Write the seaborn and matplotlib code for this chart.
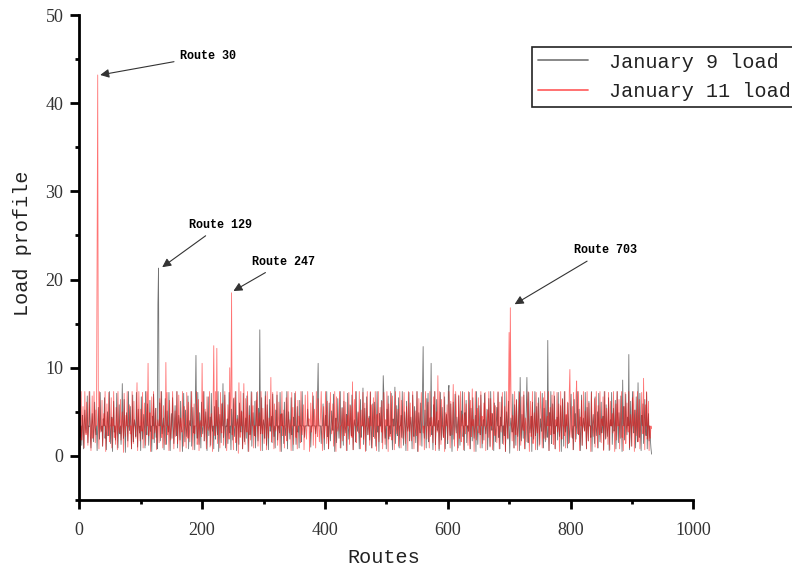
import numpy as np
import pandas as pd
import matplotlib
matplotlib.use("Agg")
import matplotlib.pyplot as plt
from matplotlib.lines import Line2D
from matplotlib.ticker import MultipleLocator
import seaborn as sns

# ---------------- data ----------------
series_names = ["January 9 load", "January 11 load"]

jan9_load = [
    3.4, 2.1, 3.4, 1.2, 4.6, 3.4, 0.8, 3.5, 5.2, 3.4, 2.6, 3.4, 6.8, 1.5, 3.4, 3.3, 7.3, 2.2, 0.9, 3.4,
    4.8, 3.4, 1.6, 3.4, 6.1, 3.2, 2.4, 3.4, 0.6, 3.4, 5.5, 3.4, 1.9, 7.2, 3.4, 2.8, 3.4, 1.1, 4.2, 3.4,
    6.6, 2.0, 3.4, 0.7, 3.4, 5.0, 3.4, 2.3, 7.3, 3.4, 1.4, 3.5, 4.4, 0.5, 3.4, 6.2, 2.7, 3.4, 1.8, 3.4,
    7.1, 3.4, 0.9, 3.4, 5.8, 2.5, 3.4, 1.3, 3.4, 8.2, 3.4, 2.0, 6.4, 3.3, 0.4, 3.4, 4.9, 3.4, 1.7, 7.3,
    3.4, 2.9, 5.6, 3.4, 0.8, 3.4, 6.9, 1.6, 3.4, 4.1, 3.4, 2.2, 7.2, 3.4, 1.0, 5.3, 3.4, 2.6, 3.4, 0.6,
    6.7, 3.4, 1.9, 3.4, 4.7, 3.4, 0.9, 7.3, 3.4, 2.4, 5.9, 3.4, 1.2, 3.4, 6.3, 2.8, 3.4, 0.5, 4.5, 3.4,
    7.0, 1.5, 3.4, 5.4, 2.1, 3.4, 0.8, 17.2, 21.3, 3.4, 6.0, 1.7, 3.4, 7.3, 2.5, 3.4, 4.3, 0.7, 3.4, 6.5,
    3.4, 1.3, 5.1, 3.4, 2.7, 7.2, 3.4, 0.6, 3.4, 4.8, 2.0, 6.6, 3.4, 1.4, 3.4, 5.7, 3.4, 2.3, 7.3, 0.9,
    3.4, 4.6, 3.4, 1.8, 6.2, 3.4, 2.9, 0.5, 3.4, 7.1, 3.4, 1.6, 5.2, 3.4, 2.2, 3.4, 6.8, 0.8, 3.4, 4.0,
    3.4, 7.3, 1.1, 3.4, 5.5, 2.6, 3.4, 0.7, 6.4, 11.4, 3.4, 2.0, 7.2, 3.4, 1.3, 4.9, 3.4, 0.9, 6.1, 3.4,
    2.5, 3.4, 7.3, 1.7, 3.4, 5.0, 3.4, 0.6, 3.4, 6.7, 2.3, 3.4, 4.4, 1.2, 7.1, 3.4, 2.8, 3.4, 0.8, 5.6,
    3.4, 1.9, 6.3, 3.4, 2.4, 7.3, 0.5, 3.4, 4.7, 3.4, 1.5, 5.9, 3.4, 8.2, 2.1, 3.4, 6.9, 0.9, 3.4, 3.3,
    4.2, 1.4, 3.4, 7.2, 2.6, 3.4, 0.7, 5.3, 3.4, 1.8, 6.5, 3.4, 2.2, 3.4, 7.3, 0.6, 3.4, 4.6, 3.4, 1.3,
    6.0, 3.4, 2.7, 5.1, 3.4, 0.8, 7.1, 3.4, 1.6, 3.4, 4.3, 2.0, 6.8, 3.4, 0.5, 3.4, 5.7, 2.4, 3.4, 7.3,
    1.1, 3.4, 4.9, 3.4, 2.3, 6.2, 0.9, 3.4, 7.2, 3.4, 1.7, 5.4, 3.4, 14.3, 2.5, 3.4, 6.6, 0.6, 3.4, 4.1,
    3.4, 2.0, 7.3, 3.4, 1.2, 5.8, 3.4, 0.7, 3.4, 6.4, 2.8, 3.4, 4.5, 1.5, 7.0, 3.4, 2.2, 3.4, 0.9, 5.2,
    3.4, 6.9, 1.8, 3.4, 3.4, 2.6, 7.2, 3.4, 0.5, 4.8, 3.4, 3.4, 1.4, 6.1, 3.4, 2.3, 3.4, 7.3, 0.8, 3.4,
    5.0, 3.4, 1.9, 3.4, 6.6, 2.4, 3.4, 0.6, 4.4, 3.4, 7.1, 3.4, 1.3, 3.4, 5.6, 2.7, 3.4, 0.9, 6.3, 3.4,
    3.4, 1.6, 7.3, 3.4, 3.4, 3.4, 2.1, 3.4, 3.4, 3.4, 3.4, 5.3, 3.4, 3.4, 3.4, 3.4, 1.0, 3.4, 3.4, 3.4,
    6.8, 3.4, 3.4, 3.4, 2.5, 3.4, 3.4, 7.2, 10.5, 3.4, 3.4, 3.4, 3.4, 1.4, 3.4, 3.4, 5.9, 3.4, 0.7, 3.4,
    4.6, 3.4, 7.3, 2.2, 3.4, 0.8, 6.0, 3.4, 1.7, 3.4, 5.1, 3.4, 2.9, 7.0, 3.4, 0.5, 3.4, 4.3, 1.5, 3.4,
    6.5, 3.4, 2.0, 3.4, 7.3, 0.9, 3.4, 5.5, 3.4, 1.2, 6.2, 3.4, 2.6, 3.4, 4.7, 0.6, 7.1, 3.4, 1.9, 3.4,
    5.8, 3.4, 2.3, 6.9, 3.4, 0.7, 3.4, 4.1, 3.4, 1.6, 7.3, 3.4, 2.8, 5.0, 3.4, 0.8, 3.4, 6.4, 2.1, 3.4,
    3.4, 7.7, 1.3, 3.4, 5.4, 3.4, 0.6, 6.7, 3.4, 2.4, 3.4, 4.5, 1.8, 7.2, 3.4, 0.9, 3.4, 5.9, 2.2, 3.4,
    6.1, 3.4, 1.1, 3.4, 7.3, 2.7, 3.4, 0.5, 4.8, 3.4, 3.4, 6.3, 1.5, 3.4, 9.1, 7.0, 3.4, 2.0, 3.4, 0.8,
    5.3, 3.4, 6.8, 1.9, 3.4, 3.4, 2.5, 7.1, 3.4, 0.7, 4.2, 3.4, 3.4, 7.8, 1.4, 3.4, 5.7, 2.3, 3.4, 6.6,
    0.9, 3.4, 3.4, 4.6, 2.1, 7.3, 3.4, 1.2, 3.4, 5.0, 3.4, 0.6, 6.2, 3.4, 2.8, 3.4, 7.2, 1.7, 3.4, 4.4,
    3.4, 0.8, 6.9, 3.4, 2.2, 5.6, 3.4, 1.5, 3.4, 7.3, 0.5, 3.4, 4.9, 3.4, 2.6, 6.0, 3.4, 1.1, 7.4, 12.4,
    3.4, 2.0, 5.2, 3.4, 0.9, 6.5, 3.4, 7.1, 1.6, 3.4, 4.3, 3.4, 10.5, 2.4, 3.4, 0.7, 5.8, 3.4, 7.3, 1.3,
    3.4, 6.4, 2.9, 3.4, 4.0, 0.6, 3.4, 7.2, 3.4, 1.8, 5.5, 3.4, 2.1, 3.4, 6.7, 0.8, 3.4, 4.7, 3.4, 1.4,
    7.3, 8.0, 3.4, 2.3, 5.9, 3.4, 0.5, 3.4, 6.1, 1.9, 3.4, 7.0, 3.4, 2.6, 4.4, 3.4, 0.9, 6.8, 3.4, 1.2,
    3.4, 5.1, 3.4, 7.3, 2.2, 3.4, 0.6, 4.9, 3.4, 6.3, 1.5, 3.4, 3.4, 2.8, 7.2, 3.4, 0.8, 5.4, 3.4, 1.7,
    6.6, 3.4, 2.0, 3.4, 4.6, 0.5, 7.3, 3.4, 1.3, 3.4, 5.7, 3.4, 2.4, 6.9, 3.4, 0.9, 3.4, 4.1, 1.8, 7.1,
    3.4, 2.5, 3.4, 5.3, 0.7, 3.4, 6.5, 3.4, 1.1, 7.3, 3.4, 2.9, 4.8, 3.4, 0.6, 6.0, 3.4, 1.6, 3.4, 5.5,
    3.4, 7.2, 2.1, 3.4, 0.8, 4.4, 3.4, 6.7, 1.4, 3.4, 3.4, 2.3, 7.3, 0.5, 3.4, 5.0, 3.4, 1.9, 6.2, 3.4,
    0.3, 3.4, 4.3, 3.4, 2.7, 7.0, 3.4, 0.9, 5.8, 3.4, 1.2, 6.4, 3.4, 2.2, 3.4, 7.3, 0.6, 8.9, 3.4, 1.7,
    4.7, 3.4, 2.0, 6.9, 3.4, 0.8, 3.4, 5.2, 8.9, 3.4, 1.5, 7.2, 3.4, 2.6, 3.4, 4.5, 0.5, 6.1, 3.4, 1.9,
    3.4, 7.3, 2.3, 3.4, 5.6, 0.7, 3.4, 6.6, 3.4, 1.3, 4.2, 3.4, 2.8, 7.1, 3.4, 0.9, 5.4, 3.4, 1.6, 6.3,
    3.4, 2.1, 13.1, 3.4, 0.6, 4.9, 3.4, 7.3, 1.4, 3.4, 5.9, 3.4, 2.5, 6.8, 0.8, 3.4, 3.4, 4.4, 1.8, 7.2,
    3.4, 2.2, 3.4, 5.7, 0.5, 3.4, 6.5, 3.4, 1.1, 7.3, 3.4, 2.7, 4.6, 3.4, 0.9, 6.0, 3.4, 1.5, 3.4, 5.1,
    7.0, 3.4, 2.0, 3.4, 0.7, 6.4, 3.4, 4.8, 1.9, 3.4, 7.3, 3.4, 2.4, 5.3, 3.4, 0.6, 3.4, 6.9, 1.2, 3.4,
    4.3, 3.4, 2.9, 7.2, 3.4, 0.8, 5.5, 3.4, 1.7, 6.2, 3.4, 3.4, 2.1, 7.3, 0.5, 3.4, 4.7, 3.4, 1.4, 6.7,
    3.4, 2.3, 3.4, 5.0, 0.9, 7.1, 3.4, 1.6, 3.4, 6.1, 2.6, 3.4, 4.5, 0.7, 7.3, 3.4, 1.9, 5.8, 3.4, 2.2,
    3.4, 6.6, 0.6, 3.4, 4.1, 3.4, 7.2, 1.3, 3.4, 5.4, 2.8, 3.4, 6.3, 0.8, 3.4, 7.3, 3.4, 1.5, 4.9, 3.4,
    2.0, 6.8, 3.4, 0.5, 8.6, 3.4, 5.6, 1.8, 3.4, 7.0, 3.4, 2.4, 4.4, 3.4, 11.5, 0.7, 3.4, 6.2, 1.1, 3.4,
    7.3, 3.4, 2.6, 5.2, 3.4, 0.9, 6.7, 3.4, 1.6, 8.3, 3.4, 2.1, 7.1, 3.4, 0.6, 4.6, 3.4, 5.9, 1.4, 3.4,
    6.4, 3.4, 2.3, 7.2, 0.8, 3.4, 4.8, 1.7, 3.4, 2.0, 0.9, 0.2,
]

jan11_load = [
    0.3, 3.4, 7.3, 1.8, 3.4, 5.6, 3.4, 0.9, 7.3, 3.4, 2.4, 6.1, 3.4, 1.2, 3.4, 7.3, 4.5, 3.4, 0.6, 3.4,
    6.8, 2.0, 3.4, 7.3, 3.4, 1.5, 5.2, 3.4, 24.5, 43.2, 3.4, 0.8, 7.3, 3.4, 2.7, 3.4, 6.3, 1.1, 3.4, 4.8,
    3.4, 7.3, 0.5, 3.4, 5.9, 2.3, 3.4, 7.2, 1.6, 3.4, 3.4, 6.6, 0.9, 4.2, 3.4, 7.3, 2.1, 3.4, 1.3, 5.5,
    3.4, 0.7, 7.3, 3.4, 2.6, 3.4, 6.4, 1.8, 3.4, 5.0, 3.4, 0.4, 7.1, 3.4, 2.2, 4.6, 3.4, 7.3, 1.0, 3.4,
    3.4, 5.8, 2.5, 3.4, 0.8, 7.3, 3.4, 1.4, 6.2, 3.4, 3.4, 2.0, 4.4, 8.3, 0.6, 3.4, 7.3, 3.4, 1.7, 5.3,
    3.4, 2.8, 7.2, 0.9, 3.4, 6.0, 3.4, 1.2, 3.4, 7.3, 3.4, 10.5, 2.3, 3.4, 4.9, 0.5, 3.4, 6.7, 3.4, 1.9,
    7.3, 3.4, 2.6, 3.4, 5.4, 0.7, 3.4, 4.1, 3.4, 1.5, 6.5, 3.4, 7.3, 2.1, 3.4, 0.9, 5.7, 3.4, 3.4, 1.3,
    10.6, 3.4, 7.2, 2.4, 3.4, 0.6, 6.3, 3.4, 1.8, 3.4, 4.7, 7.3, 3.4, 0.8, 3.4, 5.1, 2.2, 3.4, 7.3, 1.4,
    3.4, 6.9, 3.4, 0.5, 4.3, 3.4, 2.7, 7.3, 3.4, 1.1, 5.6, 3.4, 3.4, 0.9, 7.2, 3.4, 2.0, 6.1, 3.4, 1.6,
    3.4, 4.6, 7.3, 3.4, 0.7, 3.4, 5.9, 2.5, 3.4, 3.4, 7.3, 1.3, 3.4, 6.4, 0.6, 3.4, 4.0, 3.4, 2.2, 10.5,
    3.4, 7.3, 1.7, 3.4, 5.3, 3.4, 0.8, 6.7, 3.4, 2.9, 3.4, 7.3, 1.0, 3.4, 4.8, 3.4, 0.5, 6.2, 12.5, 3.4,
    2.3, 7.3, 3.4, 12.2, 1.4, 3.4, 5.5, 3.4, 0.9, 7.2, 3.4, 2.6, 6.0, 3.4, 1.2, 3.4, 7.3, 4.4, 3.4, 0.6,
    3.4, 5.8, 3.4, 1.9, 10.0, 3.4, 7.1, 18.5, 2.4, 3.4, 0.7, 6.6, 3.4, 7.3, 1.5, 3.4, 4.2, 3.4, 0.3, 8.3,
    3.4, 2.1, 7.3, 3.4, 5.0, 0.8, 3.4, 8.2, 3.4, 1.3, 6.5, 3.4, 2.7, 7.3, 3.4, 0.5, 4.6, 3.4, 1.8, 3.4,
    7.2, 3.4, 5.7, 0.9, 3.4, 3.4, 2.2, 6.3, 3.4, 7.3, 1.1, 3.4, 4.9, 3.4, 0.6, 7.3, 3.4, 2.5, 5.4, 3.4,
    1.4, 3.4, 6.8, 3.4, 0.7, 7.3, 3.4, 2.0, 4.3, 3.4, 3.4, 8.9, 1.6, 3.4, 7.2, 3.4, 0.8, 5.9, 3.4, 2.8,
    3.4, 7.3, 1.2, 3.4, 6.1, 3.4, 0.5, 4.7, 3.4, 7.3, 2.3, 3.4, 5.2, 0.9, 3.4, 3.4, 6.6, 1.7, 3.4, 7.3,
    3.4, 2.6, 4.1, 3.4, 0.6, 7.2, 3.4, 5.5, 1.3, 3.4, 3.4, 7.3, 2.1, 3.4, 0.8, 6.3, 3.4, 4.5, 3.4, 1.5,
    7.3, 3.4, 2.4, 3.4, 5.8, 0.7, 3.4, 6.9, 3.4, 1.9, 3.4, 7.3, 3.4, 4.2, 0.5, 3.4, 6.0, 2.7, 3.4, 7.2,
    1.2, 3.4, 5.3, 3.4, 0.9, 7.3, 3.4, 2.2, 6.5, 3.4, 1.6, 3.4, 4.8, 7.3, 3.4, 0.6, 3.4, 5.6, 2.0, 3.4,
    7.3, 3.4, 1.4, 6.2, 3.4, 0.8, 3.4, 4.4, 7.2, 3.4, 2.5, 3.4, 5.9, 1.1, 3.4, 7.3, 3.4, 0.5, 6.7, 3.4,
    2.8, 3.4, 4.0, 7.3, 0.9, 3.4, 3.4, 5.4, 1.7, 3.4, 7.3, 2.3, 3.4, 6.1, 0.6, 3.4, 4.6, 3.4, 7.2, 1.3,
    3.4, 5.7, 3.4, 2.1, 8.4, 0.7, 3.4, 6.4, 3.4, 7.3, 1.5, 3.4, 3.4, 4.9, 2.6, 7.3, 3.4, 0.8, 5.2, 3.4,
    3.4, 7.2, 1.9, 3.4, 6.0, 0.5, 3.4, 3.4, 7.3, 2.4, 4.3, 3.4, 1.2, 7.3, 3.4, 5.8, 0.9, 3.4, 6.6, 3.4,
    2.0, 7.3, 3.4, 0.6, 4.7, 3.4, 7.3, 1.6, 3.4, 5.5, 3.4, 2.7, 6.2, 0.8, 3.4, 7.2, 3.4, 1.3, 4.1, 3.4,
    7.3, 3.4, 0.5, 5.9, 3.4, 2.2, 7.3, 3.4, 1.8, 6.8, 3.4, 3.4, 0.7, 4.5, 7.3, 3.4, 2.5, 3.4, 5.3, 1.1,
    3.4, 7.3, 3.4, 0.9, 6.3, 3.4, 2.0, 4.8, 7.2, 3.4, 1.4, 3.4, 5.6, 3.4, 0.6, 7.3, 3.4, 2.8, 6.0, 3.4,
    1.7, 3.4, 7.3, 4.2, 0.8, 3.4, 5.1, 3.4, 2.3, 7.3, 3.4, 0.5, 6.5, 3.4, 1.2, 3.4, 7.2, 4.6, 3.4, 2.6,
    3.4, 0.7, 5.7, 7.3, 3.4, 1.9, 3.4, 6.1, 3.4, 0.9, 7.3, 2.2, 3.4, 4.4, 3.4, 1.5, 6.7, 3.4, 7.3, 0.6,
    3.4, 5.0, 2.7, 9.1, 3.4, 0.8, 7.3, 3.4, 1.3, 6.4, 3.4, 3.4, 2.1, 7.2, 0.5, 3.4, 4.9, 3.4, 5.8, 1.8,
    3.4, 7.3, 3.4, 0.9, 6.2, 3.4, 2.4, 4.3, 8.1, 3.4, 1.1, 3.4, 7.3, 5.5, 3.4, 0.6, 3.4, 6.9, 2.0, 3.4,
    7.3, 1.6, 3.4, 4.7, 3.4, 0.7, 7.2, 3.4, 2.5, 5.9, 3.4, 3.4, 1.2, 7.3, 3.4, 0.8, 6.3, 3.4, 2.2, 7.6,
    3.4, 4.1, 0.5, 3.4, 7.3, 3.4, 1.8, 5.4, 3.4, 6.6, 2.6, 3.4, 0.9, 7.3, 3.4, 4.5, 1.4, 3.4, 6.0, 3.4,
    7.2, 0.6, 3.4, 3.4, 5.2, 2.1, 7.3, 3.4, 1.0, 6.5, 3.4, 4.8, 0.7, 3.4, 7.3, 3.4, 2.3, 5.7, 3.4, 1.5,
    3.4, 7.3, 3.4, 0.8, 6.1, 3.4, 2.7, 4.4, 7.2, 3.4, 1.3, 3.4, 5.6, 0.5, 3.4, 7.3, 3.4, 2.0, 6.8, 14.0,
    3.4, 16.8, 7.3, 3.4, 1.7, 4.6, 3.4, 0.9, 7.3, 3.4, 2.4, 6.3, 3.4, 0.6, 3.4, 5.0, 7.2, 3.4, 1.2, 3.4,
    6.7, 3.4, 2.9, 7.3, 0.8, 3.4, 4.3, 3.4, 1.6, 5.8, 7.3, 3.4, 0.5, 3.4, 6.2, 2.2, 3.4, 7.3, 1.4, 3.4,
    4.9, 3.4, 0.7, 7.2, 3.4, 2.6, 6.0, 3.4, 1.1, 3.4, 7.3, 5.3, 3.4, 0.9, 3.4, 6.6, 2.0, 7.3, 3.4, 1.8,
    3.4, 4.5, 3.4, 7.3, 0.6, 3.4, 5.5, 2.4, 3.4, 6.9, 3.4, 1.3, 7.3, 3.4, 0.8, 4.1, 3.4, 7.2, 2.7, 3.4,
    5.9, 0.5, 3.4, 7.3, 3.4, 1.9, 6.4, 3.4, 3.4, 2.3, 7.3, 0.9, 4.7, 3.4, 6.1, 3.4, 1.4, 7.3, 9.8, 3.4,
    2.1, 3.4, 5.6, 0.7, 7.2, 3.4, 3.4, 1.6, 6.8, 8.5, 3.4, 2.5, 7.3, 3.4, 0.6, 4.4, 3.4, 6.3, 1.2, 3.4,
    7.3, 3.4, 2.8, 5.1, 3.4, 0.8, 7.3, 3.4, 1.7, 6.0, 3.4, 3.4, 0.5, 7.2, 4.6, 3.4, 2.2, 3.4, 6.5, 1.0,
    3.4, 7.3, 3.4, 0.9, 5.7, 3.4, 2.4, 7.3, 3.4, 1.5, 4.2, 3.4, 6.7, 0.6, 3.4, 7.3, 3.4, 2.0, 5.4, 3.4,
    1.3, 7.2, 3.4, 0.7, 6.2, 3.4, 3.4, 4.8, 2.6, 7.3, 3.4, 0.5, 3.4, 5.9, 1.8, 7.3, 3.4, 3.4, 6.4, 0.8,
    3.4, 4.3, 7.3, 2.1, 3.4, 0.6, 5.6, 3.4, 7.2, 1.4, 3.4, 6.0, 3.4, 2.7, 7.3, 0.9, 3.4, 4.7, 3.4, 1.1,
    6.6, 3.4, 7.3, 0.5, 3.4, 5.2, 2.3, 3.4, 7.3, 1.6, 3.4, 6.4, 0.8, 3.4, 4.0, 7.2, 3.4, 2.5, 8.8, 3.4,
    0.7, 5.8, 3.4, 7.3, 1.9, 3.4, 6.2, 0.6, 3.4, 2.0, 3.4, 3.1,
]

x_ticks = [0, 200, 400, 600, 800, 1000]
y_ticks = [0, 10, 20, 30, 40, 50]

annotations = [
    ("Route 30", 30, 43.2),
    ("Route 129", 129, 21.3),
    ("Route 247", 248, 18.5),
    ("Route 703", 702, 16.8),
]

# ---------------- build long-form table ----------------
df = pd.concat([
    pd.DataFrame({"Routes": np.arange(1, len(jan9_load) + 1), "Load": jan9_load,
                  "Series": series_names[0]}),
    pd.DataFrame({"Routes": np.arange(1, len(jan11_load) + 1), "Load": jan11_load,
                  "Series": series_names[1]}),
], ignore_index=True)

sns.set_style("white")
plt.rcParams["font.family"] = ["Liberation Mono", "DejaVu Sans Mono"]

fig = plt.figure(figsize=(7.92, 5.70), dpi=100)
ax = fig.add_axes([79.3 / 792, 70 / 570, 614 / 792, 485 / 570])

palette = {series_names[0]: "#000000", series_names[1]: "#ff0000"}
sns.lineplot(data=df, x="Routes", y="Load", hue="Series", palette=palette,
             alpha=0.55, linewidth=0.6, estimator=None, sort=False,
             legend=False, ax=ax)

ax.set_xlim(0, 1000)
ax.set_ylim(-5, 50)
ax.set_xticks(x_ticks)
ax.set_yticks(y_ticks)
ax.xaxis.set_minor_locator(MultipleLocator(100))
ax.yaxis.set_minor_locator(MultipleLocator(5))

for side in ["top", "right"]:
    ax.spines[side].set_visible(False)
for side in ["left", "bottom"]:
    ax.spines[side].set_linewidth(2.0)
    ax.spines[side].set_color("black")

ax.tick_params(which="major", direction="out", length=6.5, width=2.0,
               color="black", pad=5, labelsize=13, labelcolor="#333333",
               left=True, bottom=True)
ax.tick_params(axis="x", which="major", pad=9)
ax.tick_params(which="minor", direction="out", length=3.2, width=2.0,
               color="black", left=True, bottom=True)
for lab in ax.get_xticklabels() + ax.get_yticklabels():
    lab.set_fontfamily(["Liberation Serif", "DejaVu Serif"])

ax.set_xlabel("Routes", fontsize=14.5, color="#222222")
ax.set_ylabel("Load profile", fontsize=14.5, color="#222222")
ax.xaxis.set_label_coords(0.496, -0.099)
ax.yaxis.set_label_coords(-0.077, 0.53)

# annotations
ann_text_pos = {
    "Route 30": (164, 45.4),
    "Route 129": (179, 26.2),
    "Route 247": (282, 22.0),
    "Route 703": (805, 23.3),
}
ann_tip_offset = {
    "Route 30": (4, 0.0),
    "Route 129": (6, 0.1),
    "Route 247": (3, 0.2),
    "Route 703": (7, 0.4),
}
for label, xv, yv in annotations:
    tx, ty = ann_text_pos[label]
    dx, dy = ann_tip_offset[label]
    ax.annotate(label, xy=(xv + dx, yv + dy), xytext=(tx, ty),
                fontsize=8.5, fontweight="bold", color="black",
                ha="left", va="center",
                arrowprops=dict(arrowstyle="-|>", color="#333333", lw=0.8,
                                mutation_scale=13, shrinkA=2, shrinkB=0),
                annotation_clip=False)

# legend
handles = [Line2D([0], [0], color="#000000", alpha=0.5, lw=1.3),
           Line2D([0], [0], color="#ff0000", alpha=0.6, lw=1.3)]
leg = ax.legend(handles, series_names, loc="upper left",
                bbox_to_anchor=(532 / 792, 1 - 46.5 / 570),
                bbox_transform=fig.transFigure, borderaxespad=0,
                fontsize=14.5, frameon=True, fancybox=False, shadow=False,
                handlelength=2.5, handletextpad=1.0, borderpad=0.3,
                labelspacing=0.5, framealpha=1)
leg.get_frame().set_edgecolor("#222222")
leg.get_frame().set_linewidth(1.2)
for t in leg.get_texts():
    t.set_color("#222222")

fig.savefig("out.png", dpi=100, facecolor="white")
